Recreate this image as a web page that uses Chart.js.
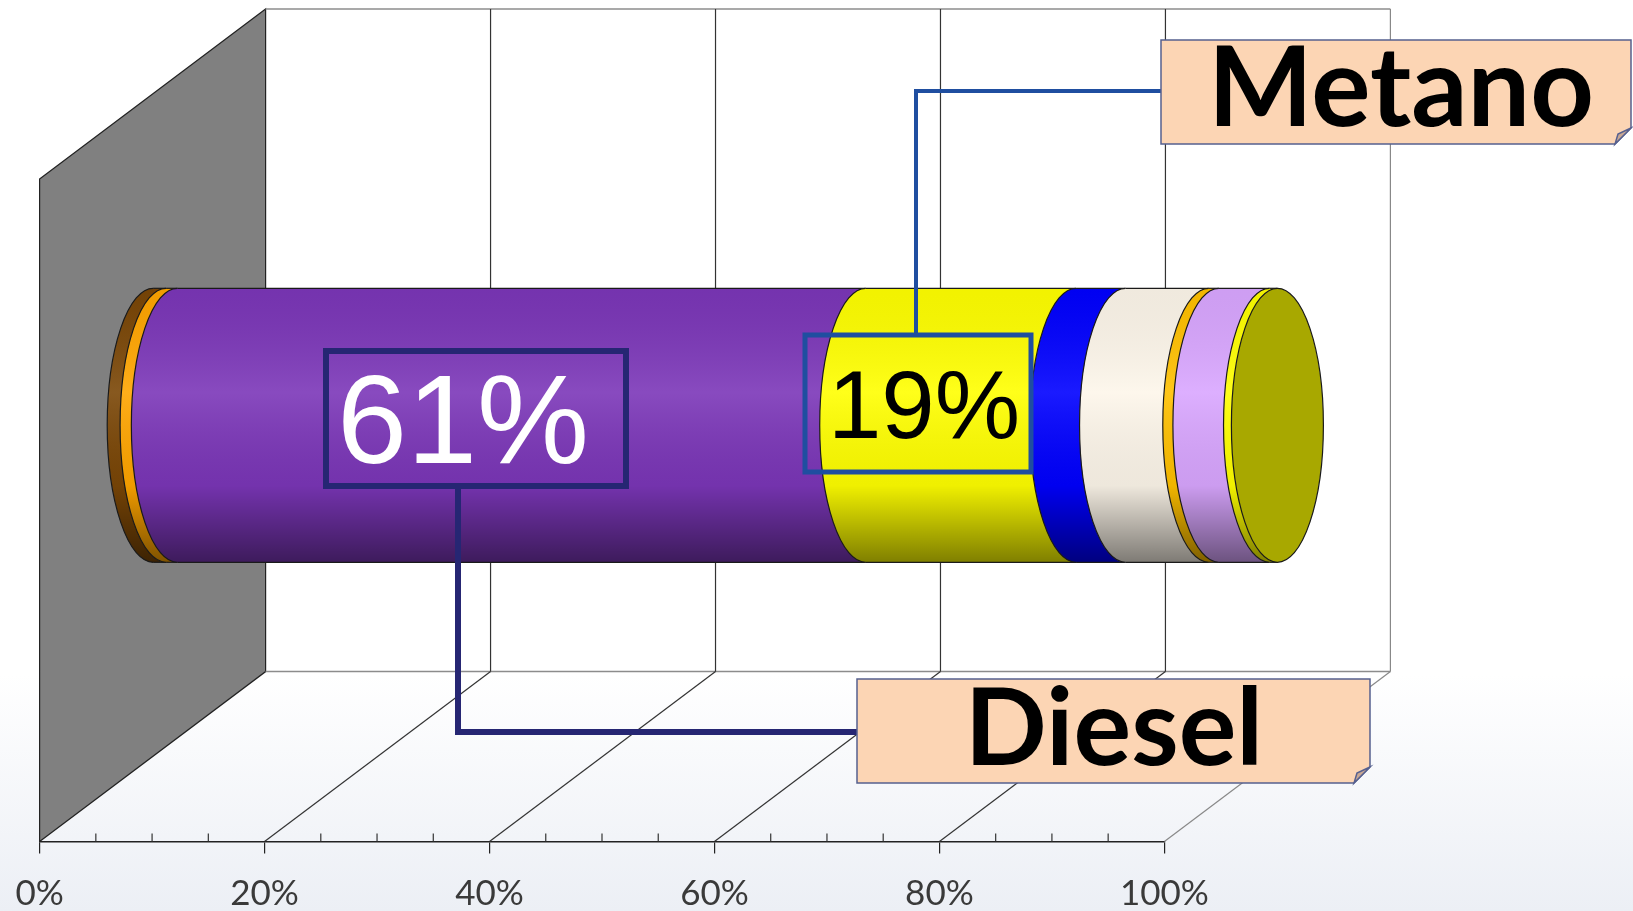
<!DOCTYPE html>
<html>
<head>
<meta charset="utf-8">
<script src="https://cdn.jsdelivr.net/npm/chart.js@4.4.1/dist/chart.umd.min.js"></script>
<style>
  body { margin: 0; width: 1633px; height: 911px; overflow: hidden;
         background: linear-gradient(to bottom, #ffffff 0%, #ffffff 74%, #eceff5 100%); }
  canvas { display: block; }
</style>
</head>
<body>
<canvas id="chart" width="1633" height="911"></canvas>
<script>
const categories = ['Parco veicoli'];
const fuels = ['Altro', 'GPL', 'Diesel', 'Metano', 'Elettrico', 'Benzina', 'Ibrido', 'Idrogeno', 'Biogas'];
const shares = [1.2, 1.0, 61.2, 18.7, 4.4, 7.4, 0.9, 4.5, 0.7];
const colors = ['#7a4606', '#ffa500', '#7b36b8', '#ffff00', '#0000ff', '#fdf6ea', '#ffc000', '#d9a6ff', '#ffff00'];
const tickLabels = ['0%', '20%', '40%', '60%', '80%', '100%'];

// 3d depth of the box (back wall offset) and cylinder end radius
const depthX = 226, depthY = -170;
const capRx = 46;

function shade(hex, f) {
  const n = parseInt(hex.slice(1), 16);
  const r = Math.round(((n >> 16) & 255) * f), g = Math.round(((n >> 8) & 255) * f), b = Math.round((n & 255) * f);
  return `rgb(${r},${g},${b})`;
}

function line(ctx, x1, y1, x2, y2, color, w) {
  ctx.strokeStyle = color;
  ctx.lineWidth = w;
  ctx.beginPath();
  ctx.moveTo(x1, y1);
  ctx.lineTo(x2, y2);
  ctx.stroke();
}

function segPath(ctx, a, b, top, bot, cy, ry) {
  ctx.beginPath();
  ctx.moveTo(b, top);
  ctx.lineTo(a, top);
  ctx.ellipse(a, cy, capRx, ry, 0, -Math.PI / 2, Math.PI / 2, true);
  ctx.lineTo(b, bot);
  ctx.closePath();
}

const scene3d = {
  id: 'scene3d',
  beforeDatasetsDraw(chart) {
    const ctx = chart.ctx;
    const a = chart.chartArea;
    const x = chart.scales.x;
    const L = a.left, R = a.right, T = a.top, B = a.bottom;
    ctx.save();

    // side wall
    ctx.fillStyle = '#808080';
    ctx.beginPath();
    ctx.moveTo(L, T);
    ctx.lineTo(L + depthX, T + depthY);
    ctx.lineTo(L + depthX, B + depthY);
    ctx.lineTo(L, B);
    ctx.closePath();
    ctx.fill();
    ctx.strokeStyle = '#222';
    ctx.lineWidth = 1.2;
    ctx.stroke();

    // back wall frame
    line(ctx, L + depthX, T + depthY, R + depthX, T + depthY, '#8c8c8c', 1.5);
    line(ctx, L + depthX, B + depthY, R + depthX, B + depthY, '#8c8c8c', 1.5);

    // grid on back wall + floor
    x.ticks.forEach(t => {
      if (t.value === 0) return;
      const px = x.getPixelForValue(t.value);
      const c = t.value === 100 ? '#888' : '#333';
      line(ctx, px + depthX, T + depthY, px + depthX, B + depthY, c, 1.2);
      line(ctx, px, B, px + depthX, B + depthY, c, 1.2);
    });

    // minor ticks on the front axis
    for (let v = 5; v < 100; v += 5) {
      if (v % 20 === 0) continue;
      const px = x.getPixelForValue(v);
      line(ctx, px, B, px, B - 8, '#333', 1.2);
    }

    // cylinder, one segment per dataset
    const hx = depthX / 2, hy = depthY / 2;
    let last = null;
    chart.data.datasets.forEach((ds, i) => {
      const bar = chart.getDatasetMeta(i).data[0];
      const s = bar.getProps(['x', 'y', 'base', 'height'], true);
      const x0 = s.base + hx, x1 = s.x + hx;
      const cy = s.y + hy, ry = s.height / 2;
      const top = cy - ry, bot = cy + ry;
      segPath(ctx, x0, x1, top, bot, cy, ry);
      ctx.fillStyle = ds.backgroundColor;
      ctx.fill();
      const g = ctx.createLinearGradient(0, top, 0, bot);
      g.addColorStop(0, 'rgba(0,0,0,0.05)');
      g.addColorStop(0.38, 'rgba(255,255,255,0.10)');
      g.addColorStop(0.72, 'rgba(0,0,0,0.06)');
      g.addColorStop(1, 'rgba(0,0,0,0.5)');
      ctx.fillStyle = g;
      ctx.fill();
      ctx.strokeStyle = '#1a1a1a';
      ctx.lineWidth = 1.2;
      ctx.beginPath();
      ctx.ellipse(x0, cy, capRx, ry, 0, -Math.PI / 2, Math.PI / 2, true);
      ctx.stroke();
      line(ctx, x0, top, x1, top, '#1a1a1a', 1.2);
      line(ctx, x0, bot, x1, bot, '#1a1a1a', 1.2);
      last = { x1, cy, ry, color: ds.backgroundColor };
    });

    // end cap
    ctx.beginPath();
    ctx.ellipse(last.x1, last.cy, capRx, last.ry, 0, 0, Math.PI * 2);
    ctx.fillStyle = shade(last.color, 0.66);
    ctx.fill();
    ctx.strokeStyle = '#1a1a1a';
    ctx.lineWidth = 1.2;
    ctx.stroke();

    ctx.restore();
    return false;
  },

  afterDraw(chart) {
    const ctx = chart.ctx;
    ctx.save();

    // name tags
    const tag = (x, y, w, h) => {
      ctx.fillStyle = '#fcd5b4';
      ctx.beginPath();
      ctx.moveTo(x, y);
      ctx.lineTo(x + w, y);
      ctx.lineTo(x + w, y + h - 16);
      ctx.lineTo(x + w - 16, y + h);
      ctx.lineTo(x, y + h);
      ctx.closePath();
      ctx.fill();
      ctx.strokeStyle = '#56608f';
      ctx.lineWidth = 1.5;
      ctx.stroke();
      ctx.fillStyle = '#c9a894';
      ctx.beginPath();
      ctx.moveTo(x + w, y + h - 16);
      ctx.lineTo(x + w - 13, y + h - 10);
      ctx.lineTo(x + w - 16, y + h);
      ctx.closePath();
      ctx.fill();
      ctx.stroke();
    };

    // Metano connector + value box
    ctx.lineJoin = 'miter';
    ctx.strokeStyle = '#1f4ea0';
    ctx.lineWidth = 4;
    ctx.beginPath();
    ctx.moveTo(1161, 91);
    ctx.lineTo(916, 91);
    ctx.lineTo(916, 335);
    ctx.stroke();
    ctx.lineWidth = 5;
    ctx.strokeRect(805, 335, 226, 137);

    // Diesel connector + value box
    ctx.strokeStyle = '#262673';
    ctx.lineWidth = 6;
    ctx.beginPath();
    ctx.moveTo(458, 486);
    ctx.lineTo(458, 732);
    ctx.lineTo(857, 732);
    ctx.stroke();
    ctx.strokeRect(326, 351, 300, 135);

    tag(1161, 40, 470, 104);
    tag(857, 679, 513, 104);

    const pct = name => Math.round(shares[fuels.indexOf(name)]) + '%';
    ctx.textAlign = 'center';
    ctx.textBaseline = 'alphabetic';
    ctx.fillStyle = '#000';
    ctx.font = 'bold 111px Lato';
    ctx.fillText('Metano', 1401, 126);
    ctx.font = 'bold 108px Lato';
    ctx.fillText('Diesel', 1114, 765);

    ctx.textBaseline = 'middle';
    ctx.font = '96px "Liberation Sans"';
    ctx.fillStyle = '#000';
    ctx.fillText(pct('Metano'), 924, 412);
    ctx.font = '126px "Liberation Sans"';
    ctx.fillStyle = '#fff';
    ctx.fillText(pct('Diesel'), 463, 428);

    ctx.restore();
  }
};

const ctx = document.getElementById('chart').getContext('2d');
const chart = new Chart(ctx, {
  type: 'bar',
  data: {
    labels: categories,
    datasets: fuels.map((f, i) => ({
      label: f,
      data: [shares[i]],
      backgroundColor: colors[i],
      barThickness: 274
    }))
  },
  options: {
    indexAxis: 'y',
    responsive: false,
    animation: false,
    layout: { padding: { left: 39.6, right: 468.6, top: 179, bottom: 0 } },
    plugins: { legend: { display: false }, tooltip: { enabled: false } },
    scales: {
      x: {
        stacked: true,
        min: 0,
        max: 100,
        afterFit: scale => {
          scale.height = 69.4;
          scale.paddingLeft = 0;
          scale.paddingRight = 0;
        },
        border: { display: true, color: '#222', width: 1.5 },
        grid: { drawOnChartArea: false, drawTicks: true, tickLength: 12, color: '#222', lineWidth: 1.2 },
        ticks: {
          stepSize: 20,
          padding: 21,
          color: '#3a3a3a',
          font: { family: 'Lato', size: 35, lineHeight: 1.1 },
          callback: v => tickLabels[v / 20]
        }
      },
      y: { stacked: true, display: false }
    }
  },
  plugins: [scene3d]
});
</script>
</body>
</html>
